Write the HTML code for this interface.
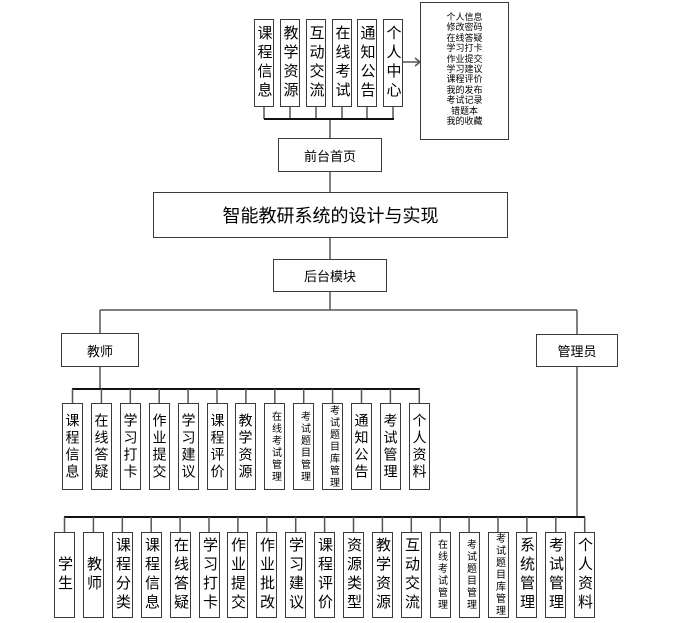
<!DOCTYPE html>
<html><head><meta charset="utf-8">
<style>
html,body{margin:0;padding:0;background:#fff;}
body{width:691px;height:623px;position:relative;overflow:hidden;font-family:"Liberation Sans","Noto Sans CJK SC",sans-serif;color:#000;}
svg{position:absolute;left:0;top:0;}
.b{position:absolute;box-sizing:border-box;border:1.5px solid #3a3a3a;background:#fff;display:flex;align-items:center;justify-content:center;}
.v{writing-mode:vertical-rl;text-orientation:upright;font-size:14px;letter-spacing:3px;line-height:1;}
.vt{font-size:15px;letter-spacing:4px;}
.vs{font-size:10px;letter-spacing:2px;}
.h{font-size:13px;}
.t{width:21px;top:403px;height:87px;}
.a{width:21px;top:532px;height:86px;}
.p{width:20px;top:19px;height:88px;}
</style></head><body>
<svg width="691" height="623">
<g stroke="#555" stroke-width="1.5" fill="none">
<line x1="330" y1="119" x2="330" y2="192"/>
<line x1="330" y1="238" x2="330" y2="310"/>
<line x1="100" y1="310" x2="577" y2="310"/>
<line x1="100" y1="310" x2="100" y2="333"/>
<line x1="577" y1="310" x2="577" y2="517"/>
<line x1="100" y1="367" x2="100" y2="389"/>
<line x1="264" y1="107" x2="264" y2="119"/>
<line x1="290" y1="107" x2="290" y2="119"/>
<line x1="316" y1="107" x2="316" y2="119"/>
<line x1="342" y1="107" x2="342" y2="119"/>
<line x1="367" y1="107" x2="367" y2="119"/>
<line x1="393" y1="107" x2="393" y2="119"/>
<line x1="403" y1="62" x2="420" y2="62"/>
<polyline points="415,58 420,62 415,66"/>
</g>
<g stroke="#111" stroke-width="2">
<line x1="264" y1="119" x2="394" y2="119"/>
<line x1="72" y1="389" x2="420" y2="389"/>
<line x1="64" y1="517" x2="585" y2="517"/>
</g>
<g stroke="#555" stroke-width="1.5">
<line x1="72.5" y1="389" x2="72.5" y2="403"/><line x1="101.4" y1="389" x2="101.4" y2="403"/><line x1="130.3" y1="389" x2="130.3" y2="403"/><line x1="159.2" y1="389" x2="159.2" y2="403"/><line x1="188.1" y1="389" x2="188.1" y2="403"/><line x1="217" y1="389" x2="217" y2="403"/><line x1="245.9" y1="389" x2="245.9" y2="403"/><line x1="274.8" y1="389" x2="274.8" y2="403"/><line x1="303.7" y1="389" x2="303.7" y2="403"/><line x1="332.6" y1="389" x2="332.6" y2="403"/><line x1="361.5" y1="389" x2="361.5" y2="403"/><line x1="390.4" y1="389" x2="390.4" y2="403"/><line x1="419.3" y1="389" x2="419.3" y2="403"/>
<line x1="64.5" y1="517" x2="64.5" y2="532"/><line x1="93.4" y1="517" x2="93.4" y2="532"/><line x1="122.3" y1="517" x2="122.3" y2="532"/><line x1="151.2" y1="517" x2="151.2" y2="532"/><line x1="180.1" y1="517" x2="180.1" y2="532"/><line x1="209" y1="517" x2="209" y2="532"/><line x1="237.9" y1="517" x2="237.9" y2="532"/><line x1="266.8" y1="517" x2="266.8" y2="532"/><line x1="295.7" y1="517" x2="295.7" y2="532"/><line x1="324.6" y1="517" x2="324.6" y2="532"/><line x1="353.5" y1="517" x2="353.5" y2="532"/><line x1="382.4" y1="517" x2="382.4" y2="532"/><line x1="411.3" y1="517" x2="411.3" y2="532"/><line x1="440.2" y1="517" x2="440.2" y2="532"/><line x1="469.1" y1="517" x2="469.1" y2="532"/><line x1="498" y1="517" x2="498" y2="532"/><line x1="526.9" y1="517" x2="526.9" y2="532"/><line x1="555.8" y1="517" x2="555.8" y2="532"/><line x1="584.7" y1="517" x2="584.7" y2="532"/>
</g>
</svg>

<!-- top -->
<div class="b p" style="left:254px"><span class="v vt">课程信息</span></div>
<div class="b p" style="left:280px"><span class="v vt">教学资源</span></div>
<div class="b p" style="left:306px"><span class="v vt">互动交流</span></div>
<div class="b p" style="left:332px"><span class="v vt">在线考试</span></div>
<div class="b p" style="left:357px"><span class="v vt">通知公告</span></div>
<div class="b p" style="left:383px"><span class="v vt">个人中心</span></div>
<div class="b" style="left:420px;top:2px;width:89px;height:138px;font-size:9px;line-height:10.4px;text-align:center;align-items:flex-start;padding-top:9px">个人信息<br>修改密码<br>在线答疑<br>学习打卡<br>作业提交<br>学习建议<br>课程评价<br>我的发布<br>考试记录<br>错题本<br>我的收藏</div>
<div class="b h" style="left:278px;top:138px;width:104px;height:34px">前台首页</div>
<div class="b" style="left:153px;top:192px;width:355px;height:46px;font-size:18px">智能教研系统的设计与实现</div>
<div class="b h" style="left:273px;top:259px;width:114px;height:33px">后台模块</div>
<div class="b h" style="left:61px;top:333px;width:78px;height:34px">教师</div>
<div class="b h" style="left:536px;top:334px;width:82px;height:33px">管理员</div>

<!-- teacher -->
<div class="b t" style="left:62px"><span class="v">课程信息</span></div>
<div class="b t" style="left:91px"><span class="v">在线答疑</span></div>
<div class="b t" style="left:120px"><span class="v">学习打卡</span></div>
<div class="b t" style="left:149px"><span class="v">作业提交</span></div>
<div class="b t" style="left:178px"><span class="v">学习建议</span></div>
<div class="b t" style="left:207px"><span class="v">课程评价</span></div>
<div class="b t" style="left:235px"><span class="v">教学资源</span></div>
<div class="b t" style="left:264px"><span class="v vs">在线考试管理</span></div>
<div class="b t" style="left:293px"><span class="v vs">考试题目管理</span></div>
<div class="b t" style="left:322px"><span class="v vs">考试题目库管理</span></div>
<div class="b t" style="left:351px"><span class="v">通知公告</span></div>
<div class="b t" style="left:380px"><span class="v">考试管理</span></div>
<div class="b t" style="left:409px"><span class="v">个人资料</span></div>

<!-- admin -->
<div class="b a" style="left:54px"><span class="v vt">学生</span></div>
<div class="b a" style="left:83px"><span class="v vt">教师</span></div>
<div class="b a" style="left:112px"><span class="v vt">课程分类</span></div>
<div class="b a" style="left:141px"><span class="v vt">课程信息</span></div>
<div class="b a" style="left:170px"><span class="v vt">在线答疑</span></div>
<div class="b a" style="left:199px"><span class="v vt">学习打卡</span></div>
<div class="b a" style="left:227px"><span class="v vt">作业提交</span></div>
<div class="b a" style="left:256px"><span class="v vt">作业批改</span></div>
<div class="b a" style="left:285px"><span class="v vt">学习建议</span></div>
<div class="b a" style="left:314px"><span class="v vt">课程评价</span></div>
<div class="b a" style="left:343px"><span class="v vt">资源类型</span></div>
<div class="b a" style="left:372px"><span class="v vt">教学资源</span></div>
<div class="b a" style="left:401px"><span class="v vt">互动交流</span></div>
<div class="b a" style="left:430px"><span class="v vs">在线考试管理</span></div>
<div class="b a" style="left:459px"><span class="v vs">考试题目管理</span></div>
<div class="b a" style="left:488px"><span class="v vs">考试题目库管理</span></div>
<div class="b a" style="left:516px"><span class="v vt">系统管理</span></div>
<div class="b a" style="left:545px"><span class="v vt">考试管理</span></div>
<div class="b a" style="left:574px"><span class="v vt">个人资料</span></div>
</body></html>
